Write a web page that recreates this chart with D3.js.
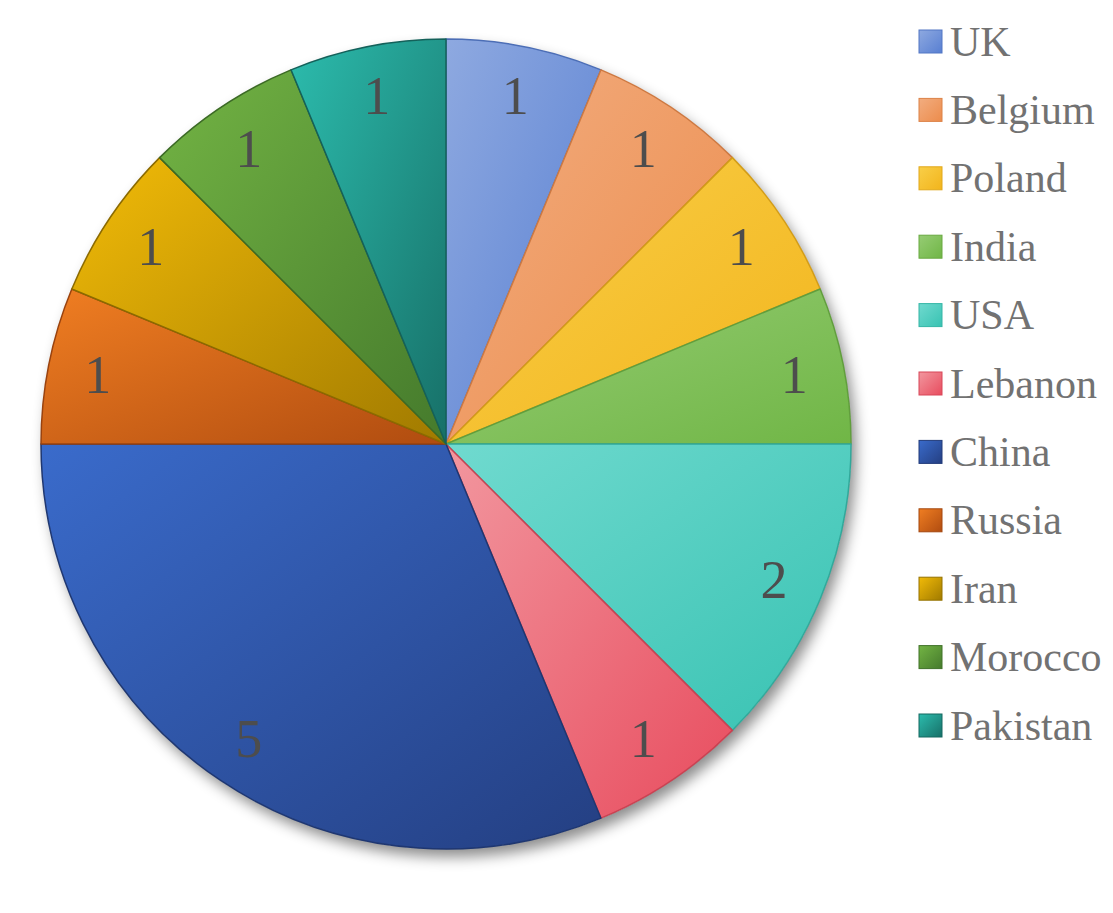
<!DOCTYPE html>
<html>
<head>
<meta charset="utf-8">
<script src="https://cdn.jsdelivr.net/npm/d3@7"></script>
<style>
  body { margin: 0; background: #fff; }
  svg { display: block; }
</style>
</head>
<body>
<svg id="chart"></svg>
<script>
// data
const countries = ["UK", "Belgium", "Poland", "India", "USA", "Lebanon", "China", "Russia", "Iran", "Morocco", "Pakistan"];
const counts = [1, 1, 1, 1, 2, 1, 5, 1, 1, 1, 1];
// light / dark ends of each slice gradient
const lightColors = ["#8ea9e0", "#f2ad80", "#f9cf48", "#96cc74", "#70dacf", "#f2979f", "#3a6bcb", "#f07e22", "#f2bb08", "#73b444", "#2cbcad"];
const darkColors  = ["#587fd2", "#ec8c4c", "#f2b41c", "#70b646", "#38c2b2", "#e84c5e", "#243f82", "#b04c10", "#a07a00", "#457a2c", "#177068"];

const W = 1113, H = 913;
const cx = 446, cy = 444, R = 405;

const svg = d3.select("#chart").attr("width", W).attr("height", H);
const defs = svg.append("defs");

// soft shadow to the lower right
const shadow = defs.append("filter").attr("id", "shadow")
  .attr("x", "-10%").attr("y", "-10%").attr("width", "130%").attr("height", "130%");
shadow.append("feDropShadow")
  .attr("dx", 5).attr("dy", 8).attr("stdDeviation", 7)
  .attr("flood-color", "#000").attr("flood-opacity", 0.45);

countries.forEach((c, i) => {
  const g = defs.append("linearGradient").attr("id", "grad" + i)
    .attr("x1", 0).attr("y1", 0).attr("x2", 1).attr("y2", 1);
  g.append("stop").attr("offset", "0%").attr("stop-color", lightColors[i]);
  g.append("stop").attr("offset", "100%").attr("stop-color", darkColors[i]);
});

const data = countries.map((c, i) => ({ name: c, value: counts[i], i: i }));

const pie = d3.pie().value(d => d.value).sort(null);
const arc = d3.arc().innerRadius(0).outerRadius(R);
const labelArc = d3.arc().innerRadius(355).outerRadius(355);
const arcs = pie(data);

const g = svg.append("g").attr("transform", `translate(${cx},${cy})`);

// shadow disc behind slices
g.append("circle").attr("r", R).attr("fill", "#fff").attr("filter", "url(#shadow)");

g.selectAll("path.slice")
  .data(arcs)
  .join("path")
    .attr("class", "slice")
    .attr("d", arc)
    .attr("fill", d => `url(#grad${d.data.i})`)
    .attr("stroke", d => d3.color(darkColors[d.data.i]).darker(0.4))
    .attr("stroke-width", 1.5)
    .attr("stroke-linejoin", "round");

g.selectAll("text.val")
  .data(arcs)
  .join("text")
    .attr("class", "val")
    .attr("transform", d => `translate(${labelArc.centroid(d)})`)
    .attr("text-anchor", "middle")
    .attr("dominant-baseline", "central")
    .style("font-family", "'Liberation Serif', 'Times New Roman', serif")
    .style("font-size", "54px")
    .style("fill", "#4d4d4d")
    .text(d => d.data.value);

// legend
const legend = svg.append("g").attr("transform", "translate(919,41.5)");
const rows = legend.selectAll("g.row")
  .data(data)
  .join("g")
    .attr("class", "row")
    .attr("transform", (d, i) => `translate(0,${i * 68.4})`);

rows.append("rect")
  .attr("x", 0).attr("y", -11.5)
  .attr("width", 23).attr("height", 23)
  .attr("fill", d => `url(#grad${d.i})`)
  .attr("stroke", d => d3.color(darkColors[d.i]).darker(0.2))
  .attr("stroke-width", 1);

rows.append("text")
  .attr("x", 31).attr("y", 0)
  .attr("dominant-baseline", "central")
  .style("font-family", "'Liberation Serif', 'Times New Roman', serif")
  .style("font-size", "42px")
  .style("fill", "#727272")
  .text(d => d.name);
</script>
</body>
</html>
